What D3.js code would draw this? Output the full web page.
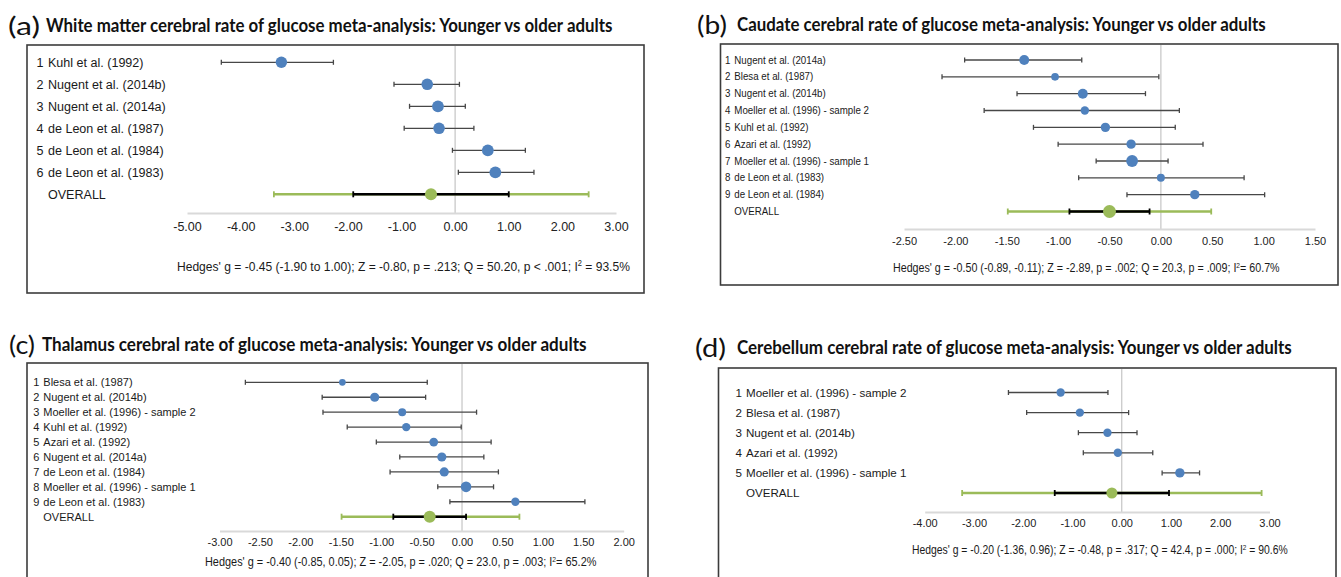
<!DOCTYPE html>
<html>
<head>
<meta charset="utf-8">
<script src="https://cdn.jsdelivr.net/npm/d3@7"></script>
<style>
  body { margin: 0; background: #fff; }
</style>
</head>
<body>
<svg id="chart" width="1341" height="577"></svg>
<script>
// (a) white matter
var studiesA = ['Kuhl et al. (1992)', 'Nugent et al. (2014b)', 'Nugent et al. (2014a)',
    'de Leon et al. (1987)', 'de Leon et al. (1984)', 'de Leon et al. (1983)'];
var effectA = [-3.24, -0.52, -0.32, -0.30, 0.61, 0.75];
var lowerA = [-4.36, -1.14, -0.85, -0.95, -0.05, 0.06];
var upperA = [-2.27, 0.08, 0.19, 0.35, 1.31, 1.47];
var weightA = [16, 16.5, 17, 16.5, 17, 17];
var overallA = [-0.45, -1.90, 1.00];
var predictionA = [-3.38, 2.49];
var ticksA = [-5, -4, -3, -2, -1, 0, 1, 2, 3];

// (b) caudate
var studiesB = ['Nugent et al. (2014a)', 'Blesa et al. (1987)', 'Nugent et al. (2014b)',
    'Moeller et al. (1996) - sample 2', 'Kuhl et al. (1992)', 'Azari et al. (1992)',
    'Moeller et al. (1996) - sample 1', 'de Leon et al. (1983)', 'de Leon et al. (1984)'];
var effectB = [-1.33, -1.03, -0.76, -0.74, -0.54, -0.29, -0.28, 0.00, 0.33];
var lowerB = [-1.91, -2.13, -1.40, -1.72, -1.24, -1.00, -0.63, -0.80, -0.33];
var upperB = [-0.77, -0.02, -0.15, 0.18, 0.14, 0.41, 0.07, 0.81, 1.01];
var weightB = [12.5, 7.5, 12.5, 9, 11, 11, 17.5, 8, 11];
var overallB = [-0.50, -0.89, -0.11];
var predictionB = [-1.49, 0.49];
var ticksB = [-2.5, -2, -1.5, -1, -0.5, 0, 0.5, 1, 1.5];

// (c) thalamus
var studiesC = ['Blesa et al. (1987)', 'Nugent et al. (2014b)', 'Moeller et al. (1996) - sample 2',
    'Kuhl et al. (1992)', 'Azari et al. (1992)', 'Nugent et al. (2014a)',
    'de Leon et al. (1984)', 'Moeller et al. (1996) - sample 1', 'de Leon et al. (1983)'];
var effectC = [-1.48, -1.08, -0.74, -0.69, -0.35, -0.25, -0.22, 0.05, 0.66];
var lowerC = [-2.68, -1.73, -1.72, -1.42, -1.06, -0.77, -0.89, -0.30, -0.15];
var upperC = [-0.43, -0.45, 0.18, -0.01, 0.36, 0.27, 0.45, 0.39, 1.52];
var weightC = [6.5, 12, 9, 10, 11, 12, 12, 16, 10];
var overallC = [-0.40, -0.85, 0.05];
var predictionC = [-1.49, 0.71];
var ticksC = [-3, -2.5, -2, -1.5, -1, -0.5, 0, 0.5, 1, 1.5, 2];

// (d) cerebellum
var studiesD = ['Moeller et al. (1996) - sample 2', 'Blesa et al. (1987)', 'Nugent et al. (2014b)',
    'Azari et al. (1992)', 'Moeller et al. (1996) - sample 1'];
var effectD = [-1.24, -0.85, -0.29, -0.08, 1.18];
var lowerD = [-2.30, -1.93, -0.88, -0.78, 0.82];
var upperD = [-0.28, 0.14, 0.31, 0.63, 1.58];
var weightD = [19, 19, 19, 19, 24];
var overallD = [-0.20, -1.36, 0.96];
var predictionD = [-3.24, 2.84];
var ticksD = [-4, -3, -2, -1, 0, 1, 2, 3];

var BLUE = '#4f81bd', GREEN = '#9bbb59';
var SANS = "'Liberation Sans', Arial, sans-serif";

var svg = d3.select('#chart');

// squeeze a text node horizontally so it spans the given width
function fitWidth(text, x0, width) {
    var w = text.node().getComputedTextLength();
    text.attr('x', 0).attr('transform', 'translate(' + x0 + ',0) scale(' + (width / w) + ',1)');
}

function fmt(d) {
    return d3.format('.2f')(d).replace('\u2212', '-');
}

function drawPanel(p) {
    var g = svg.append('g');

    g.append('rect')
        .attr('x', p.box[0]).attr('y', p.box[1])
        .attr('width', p.box[2] - p.box[0]).attr('height', p.box[3] - p.box[1])
        .attr('fill', 'none').attr('stroke', '#3c3c3c').attr('stroke-width', 1.6);

    var letter = g.append('text').text(p.letter)
        .attr('y', p.titleY).attr('dy', '0.35em')
        .attr('font-family', 'Lato, sans-serif').attr('font-weight', 400)
        .attr('font-size', 25).attr('fill', '#111');
    fitWidth(letter, p.letterX[0], p.letterX[1] - p.letterX[0]);

    var title = g.append('text').text(p.title)
        .attr('y', p.titleY).attr('dy', '0.35em')
        .attr('font-family', 'Lato, sans-serif').attr('font-weight', 700)
        .attr('font-size', 18.5).attr('fill', '#111');
    fitWidth(title, p.titleX[0], p.titleX[1] - p.titleX[0]);

    var x = d3.scaleLinear().domain(d3.extent(p.ticks)).range(p.xRange);
    var rows = p.studies.concat(['OVERALL']);
    var y = d3.scalePoint().domain(d3.range(rows.length)).range(p.yRange);
    var r = d3.scaleSqrt().domain([0, d3.max(p.weight)]).range([0, p.rMax]);

    // zero line
    g.append('line')
        .attr('x1', x(0)).attr('x2', x(0))
        .attr('y1', p.box[1] + 1).attr('y2', p.axisY)
        .attr('stroke', '#c9c9c9').attr('stroke-width', 1.3);

    var axis = d3.axisBottom(x).tickValues(p.ticks).tickFormat(fmt)
        .tickSize(0).tickSizeOuter(0);
    var ax = g.append('g').attr('transform', 'translate(0,' + p.axisY + ')').call(axis);
    ax.select('.domain').attr('stroke', '#d9d9d9').attr('stroke-width', 2);
    ax.selectAll('.tick text')
        .attr('y', p.tickY - p.axisY).attr('dy', '0.35em')
        .attr('font-family', SANS).attr('font-size', p.tickSize).attr('fill', '#222');

    // row labels
    var lab = g.selectAll('.lab').data(rows).enter().append('g')
        .attr('transform', function(d, i) { return 'translate(0,' + y(i) + ')'; })
        .attr('font-family', SANS).attr('font-size', p.labelSize).attr('fill', '#1a1a1a');
    lab.filter(function(d, i) { return i < p.studies.length; })
        .append('text').attr('dy', '0.35em')
        .attr('transform', 'translate(' + p.numX + ',0) scale(' + p.labelScale + ',1)')
        .text(function(d, i) { return i + 1; });
    lab.append('text').attr('dy', '0.35em')
        .attr('transform', 'translate(' + p.nameX + ',0) scale(' + p.labelScale + ',1)')
        .text(function(d) { return d; });

    // study intervals
    var st = g.selectAll('.study').data(p.studies).enter().append('g')
        .attr('transform', function(d, i) { return 'translate(0,' + y(i) + ')'; });
    st.append('line')
        .attr('x1', function(d, i) { return x(p.lower[i]); })
        .attr('x2', function(d, i) { return x(p.upper[i]); })
        .attr('stroke', '#474747').attr('stroke-width', 1.3);
    [p.lower, p.upper].forEach(function(arr) {
        st.append('line')
            .attr('x1', function(d, i) { return x(arr[i]); })
            .attr('x2', function(d, i) { return x(arr[i]); })
            .attr('y1', -2.5).attr('y2', 2.5)
            .attr('stroke', '#474747').attr('stroke-width', 1.3);
    });
    st.append('circle')
        .attr('cx', function(d, i) { return x(p.effect[i]); })
        .attr('r', function(d, i) { return r(p.weight[i]); })
        .attr('fill', BLUE);

    // overall: prediction interval, confidence interval, estimate
    var ov = g.append('g').attr('transform', 'translate(0,' + y(rows.length - 1) + ')');
    function bar(a, b, colour, w) {
        ov.append('line').attr('x1', x(a)).attr('x2', x(b))
            .attr('stroke', colour).attr('stroke-width', w);
        [a, b].forEach(function(v) {
            ov.append('line').attr('x1', x(v)).attr('x2', x(v))
                .attr('y1', -3).attr('y2', 3)
                .attr('stroke', colour).attr('stroke-width', 1.8);
        });
    }
    bar(p.prediction[0], p.prediction[1], GREEN, 2.6);
    bar(p.overall[1], p.overall[2], '#000', 2.6);
    ov.append('circle').attr('cx', x(p.overall[0])).attr('r', p.rOverall).attr('fill', GREEN);

    // summary line
    var note = g.append('text').attr('y', p.noteY).attr('dy', '0.35em')
        .attr('font-family', SANS).attr('font-size', p.noteSize).attr('fill', '#1a1a1a');
    note.append('tspan').text(p.note[0]);
    note.append('tspan').text('2').attr('font-size', p.noteSize * 0.62).attr('dy', '-0.55em');
    note.append('tspan').text(p.note[1]).attr('dy', '0.34em');
    fitWidth(note, p.noteX[0], p.noteX[1] - p.noteX[0]);
}

drawPanel({
    letter: '(a)', title: 'White matter cerebral rate of glucose meta-analysis: Younger vs older adults',
    studies: studiesA, effect: effectA, lower: lowerA, upper: upperA, weight: weightA,
    overall: overallA, prediction: predictionA, ticks: ticksA,
    note: ["Hedges' g = -0.45 (-1.90 to 1.00); Z = -0.80, p = .213; Q = 50.20, p < .001; I", ' = 93.5%'],
    box: [27, 45, 644, 293], letterX: [8, 40], titleX: [46, 613], titleY: 26,
    xRange: [187, 616], yRange: [62.3, 194.3], axisY: 213, tickY: 227, tickSize: 12.5,
    numX: 36.5, nameX: 48, labelSize: 13.5, labelScale: 0.93, rMax: 5.9, rOverall: 6,
    noteX: [177, 630], noteY: 266, noteSize: 13.5
});

drawPanel({
    letter: '(b)', title: 'Caudate cerebral rate of glucose meta-analysis: Younger vs older adults',
    studies: studiesB, effect: effectB, lower: lowerB, upper: upperB, weight: weightB,
    overall: overallB, prediction: predictionB, ticks: ticksB,
    note: ["Hedges' g = -0.50 (-0.89, -0.11); Z = -2.89, p = .002; Q = 20.3, p = .009; I", '= 60.7%'],
    box: [720.5, 44, 1338, 285], letterX: [697, 727], titleX: [737, 1266], titleY: 25,
    xRange: [904, 1315], yRange: [60, 211.5], axisY: 229, tickY: 241, tickSize: 11,
    numX: 725, nameX: 734.3, labelSize: 10.3, labelScale: 0.945, rMax: 5.9, rOverall: 6.5,
    noteX: [893, 1280], noteY: 268, noteSize: 12
});

drawPanel({
    letter: '(c)', title: 'Thalamus cerebral rate of glucose meta-analysis: Younger vs older adults',
    studies: studiesC, effect: effectC, lower: lowerC, upper: upperC, weight: weightC,
    overall: overallC, prediction: predictionC, ticks: ticksC,
    note: ["Hedges' g = -0.40 (-0.85, 0.05); Z = -2.05, p = .020; Q = 23.0, p = .003; I", '= 65.2%'],
    box: [27, 363, 648, 600], letterX: [9, 35], titleX: [42, 587], titleY: 345,
    xRange: [219.5, 623.7], yRange: [382.3, 516.7], axisY: 531, tickY: 542, tickSize: 11,
    numX: 33.3, nameX: 43.3, labelSize: 11, labelScale: 1, rMax: 5.3, rOverall: 6,
    noteX: [205, 597], noteY: 562, noteSize: 12.5
});

drawPanel({
    letter: '(d)', title: 'Cerebellum cerebral rate of glucose meta-analysis: Younger vs older adults',
    studies: studiesD, effect: effectD, lower: lowerD, upper: upperD, weight: weightD,
    overall: overallD, prediction: predictionD, ticks: ticksD,
    note: ["Hedges' g = -0.20 (-1.36, 0.96); Z = -0.48, p = .317; Q = 42.4, p = .000; I", ' = 90.6%'],
    box: [718.5, 368, 1336, 600], letterX: [695, 726], titleX: [737, 1292], titleY: 348,
    xRange: [924.7, 1269.5], yRange: [392.5, 493], axisY: 512, tickY: 523, tickSize: 11,
    numX: 735.5, nameX: 746, labelSize: 11.6, labelScale: 1, rMax: 4.7, rOverall: 5.5,
    noteX: [912, 1288], noteY: 550, noteSize: 12
});
</script>
</body>
</html>
